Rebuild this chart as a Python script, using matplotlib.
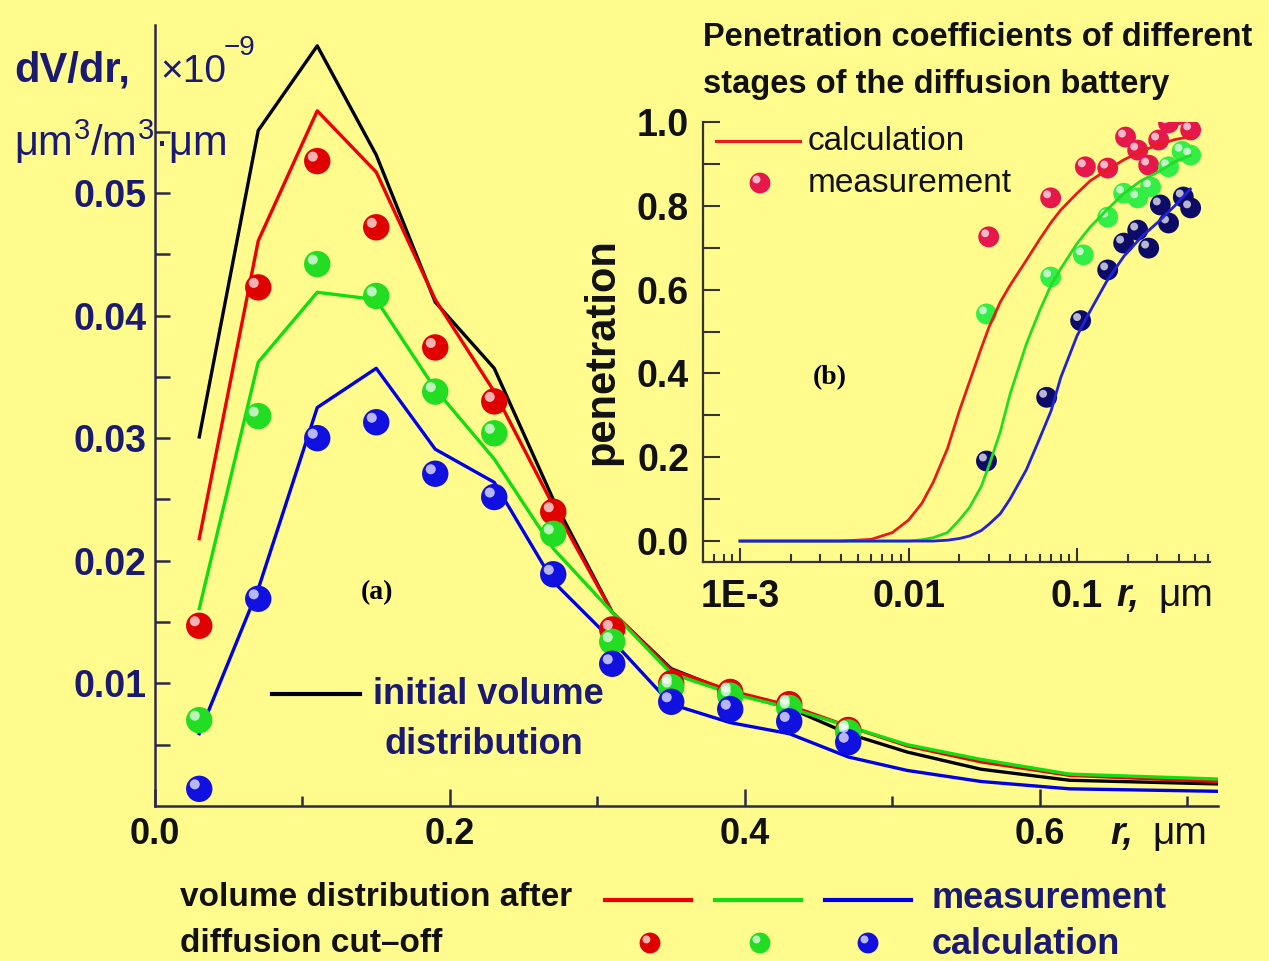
import numpy as np
import matplotlib
matplotlib.use('Agg')
import matplotlib.pyplot as plt
import matplotlib.transforms as mtransforms
from matplotlib.ticker import FixedLocator, FixedFormatter, LogLocator, NullFormatter

plt.rcParams['font.family'] = ['Liberation Sans', 'DejaVu Sans']

# ---- main plot (a): volume distribution, x1e-9 um^3/m^3/um ----
r_line = [0.03, 0.07, 0.11, 0.15, 0.19, 0.23, 0.27, 0.31, 0.35, 0.39, 0.43, 0.47, 0.51, 0.56, 0.62, 0.72]
initial = [0.0301, 0.0551, 0.0620, 0.0531, 0.0411, 0.0357, 0.0250, 0.0158, 0.0112, 0.0093, 0.0080, 0.0059, 0.0044, 0.0030, 0.0021, 0.0018]
red_line = [0.0218, 0.0461, 0.0567, 0.0517, 0.0413, 0.0338, 0.0245, 0.0158, 0.0111, 0.0094, 0.0082, 0.0065, 0.0049, 0.0036, 0.0025, 0.0020]
green_line = [0.0161, 0.0362, 0.0419, 0.0413, 0.0340, 0.0283, 0.0210, 0.0158, 0.0108, 0.0092, 0.0080, 0.0065, 0.0050, 0.0038, 0.0026, 0.0022]
blue_line = [0.0059, 0.0177, 0.0325, 0.0357, 0.0291, 0.0264, 0.0183, 0.0135, 0.0083, 0.0068, 0.0059, 0.0040, 0.0029, 0.0020, 0.0014, 0.0012]

r_dots = [0.03, 0.07, 0.11, 0.15, 0.19, 0.23, 0.27, 0.31, 0.35, 0.39, 0.43, 0.47]
red_dots = [0.0147, 0.0423, 0.0526, 0.0472, 0.0374, 0.0330, 0.0240, 0.0144, 0.0100, 0.0093, 0.0083, 0.0062]
green_dots = [0.0070, 0.0318, 0.0442, 0.0416, 0.0338, 0.0304, 0.0222, 0.0134, 0.0097, 0.0090, 0.0080, 0.0060]
blue_dots = [0.0014, 0.0169, 0.0300, 0.0313, 0.0271, 0.0252, 0.0189, 0.0116, 0.0085, 0.0079, 0.0069, 0.0052]

# ---- inset (b): penetration coefficients ----
r_calc = [0.001, 0.004, 0.006, 0.008, 0.01, 0.012, 0.014, 0.017, 0.02, 0.023, 0.027, 0.03, 0.035,
          0.04, 0.05, 0.06, 0.07, 0.08, 0.1, 0.12, 0.15, 0.19, 0.24, 0.3, 0.38, 0.47]
pen_red = [0, 0, 0.004, 0.02, 0.05, 0.09, 0.14, 0.22, 0.31, 0.38, 0.46, 0.51, 0.57,
           0.61, 0.67, 0.72, 0.76, 0.79, 0.83, 0.86, 0.885, 0.91, 0.93, 0.945, 0.958, 0.965]
pen_green = [0, 0, 0, 0, 0, 0.003, 0.008, 0.02, 0.05, 0.08, 0.13, 0.18, 0.26,
             0.35, 0.47, 0.55, 0.61, 0.65, 0.71, 0.75, 0.79, 0.83, 0.86, 0.88, 0.905, 0.92]
pen_blue = [0, 0, 0, 0, 0, 0, 0, 0.002, 0.006, 0.012, 0.025, 0.04, 0.065,
            0.10, 0.17, 0.245, 0.31, 0.39, 0.49, 0.55, 0.62, 0.68, 0.725, 0.76, 0.80, 0.84]

meas_red_r = [0.0299, 0.0697, 0.112, 0.152, 0.194, 0.229, 0.266, 0.305, 0.349, 0.395, 0.472]
meas_red = [0.726, 0.819, 0.893, 0.890, 0.964, 0.933, 0.897, 0.957, 0.998, 1.017, 0.981]
meas_green_r = [0.029, 0.0697, 0.109, 0.152, 0.189, 0.229, 0.273, 0.349, 0.42, 0.472]
meas_green = [0.542, 0.630, 0.683, 0.773, 0.830, 0.819, 0.845, 0.893, 0.930, 0.921]
meas_blue_r = [0.029, 0.066, 0.105, 0.152, 0.189, 0.229, 0.266, 0.312, 0.349, 0.427, 0.472]
meas_blue = [0.191, 0.343, 0.526, 0.647, 0.711, 0.742, 0.699, 0.802, 0.759, 0.821, 0.795]

W, H = 1269, 961
bg = '#fffb8c'
navy = '#1a1a73'
dark = '#111111'

fig = plt.figure(figsize=(W / 100, H / 100), dpi=100, facecolor=bg)


def fx(px):
    return px / W


def fy(py):
    return 1 - py / H


def balls(ax, x, y, color, d, z=5):
    # shaded sphere look: base disc + small offset highlight
    ax.scatter(x, y, s=d ** 2, c=color, edgecolors='none', zorder=z)
    off = mtransforms.offset_copy(ax.transData, fig=fig, x=-d * 0.17, y=d * 0.17, units='points')
    ax.scatter(x, y, s=(d * 0.38) ** 2, color='white', alpha=0.7, edgecolors='none',
               zorder=z + 0.1, transform=off)


# main axes
ax = fig.add_axes([fx(155), fy(806), fx(1218 - 155), (806 - 25) / H])
ax.set_facecolor('none')
ax.plot(r_line, initial, color='black', lw=2.4, zorder=3)
ax.plot(r_line, red_line, color='#ee0000', lw=2.4, zorder=3)
ax.plot(r_line, green_line, color='#11dd11', lw=2.4, zorder=3)
ax.plot(r_line, blue_line, color='#0000e6', lw=2.4, zorder=3)
balls(ax, r_dots, red_dots, '#e00000', 19)
balls(ax, r_dots, green_dots, '#22dd22', 19)
balls(ax, r_dots, blue_dots, '#1010e0', 19)

ax.set_xlim(0, 0.7207)
ax.set_ylim(0, 0.0637)
for s in ['top', 'right']:
    ax.spines[s].set_visible(False)
for s in ['left', 'bottom']:
    ax.spines[s].set_color('#2a2a4a')
    ax.spines[s].set_linewidth(1.8)
ax.xaxis.set_major_locator(FixedLocator([0.0, 0.2, 0.4, 0.6]))
ax.xaxis.set_major_formatter(FixedFormatter(['0.0', '0.2', '0.4', '0.6']))
ax.xaxis.set_minor_locator(FixedLocator([0.1, 0.3, 0.5, 0.7]))
ax.yaxis.set_major_locator(FixedLocator([0.01, 0.02, 0.03, 0.04, 0.05]))
ax.yaxis.set_major_formatter(FixedFormatter(['0.01', '0.02', '0.03', '0.04', '0.05']))
ax.yaxis.set_minor_locator(FixedLocator([0.005, 0.015, 0.025, 0.035, 0.045, 0.055]))
ax.tick_params(axis='both', which='both', direction='in', color='#2a2a4a', width=1.8)
ax.tick_params(axis='x', which='major', length=12, pad=8, labelsize=26, labelcolor=dark)
ax.tick_params(axis='x', which='minor', length=7)
ax.tick_params(axis='y', which='both', length=11, pad=6, labelsize=27, labelcolor=navy)
for lab in ax.get_xticklabels() + ax.get_yticklabels():
    lab.set_fontweight('bold')

# y-axis label pieces
fig.text(fx(14), fy(70), 'dV/dr,', fontsize=30, fontweight='bold', color=navy, va='center', ha='left')
fig.text(fx(160), fy(72), '\u00d710', fontsize=28, color=navy, va='center', ha='left')
fig.text(fx(224), fy(48), '\u22129', fontsize=20, color=navy, va='center', ha='left')
fig.text(fx(14), fy(142), '$\\mathregular{\u03bcm^3/m^3\u00b7\u03bcm}$', fontsize=30, color=navy,
         va='center', ha='left')

# x-axis label
fig.text(fx(1110), fy(834), 'r,', fontsize=27, fontweight='bold', fontstyle='italic', color=dark, va='center')
fig.text(fx(1152), fy(834), '\u03bcm', fontsize=28, color=dark, va='center')

fig.text(fx(377), fy(593), '(a)', fontsize=20, fontweight='bold', family='Liberation Serif',
         color='black', ha='center', va='center')

# legend for initial distribution
fig.add_artist(plt.Line2D([fx(272), fx(360)], [fy(694), fy(694)], color='black', lw=3))
fig.text(fx(488), fy(694), 'initial volume', fontsize=26, fontweight='bold', color=navy, ha='center', va='center')
fig.text(fx(484), fy(744), 'distribution', fontsize=26, fontweight='bold', color=navy, ha='center', va='center')

# bottom legend
fig.text(fx(180), fy(897), 'volume distribution after', fontsize=24, fontweight='bold', color=dark, va='center')
fig.text(fx(180), fy(943), 'diffusion cut\u2013off', fontsize=24, fontweight='bold', color=dark, va='center')
for x0, c in [(605, '#ee0000'), (715, '#11dd11'), (825, '#0000e6')]:
    fig.add_artist(plt.Line2D([fx(x0), fx(x0 + 86)], [fy(900), fy(900)], color=c, lw=3))
fig.text(fx(932), fy(898), 'measurement', fontsize=26, fontweight='bold', color=navy, va='center')
fig.text(fx(932), fy(944), 'calculation', fontsize=26, fontweight='bold', color=navy, va='center')
legax = fig.add_axes([0, 0, 1, 1])
legax.set_xlim(0, W)
legax.set_ylim(H, 0)
legax.axis('off')
balls(legax, [650, 760, 868], [943, 943, 943], ['#e00000', '#22dd22', '#1010e0'], 15)

# ---- inset ----
ins = fig.add_axes([fx(703), fy(562), fx(1210 - 703), (562 - 122) / H])
ins.set_facecolor('none')
ins.set_xscale('log')
ins.plot(r_calc, pen_red, color='#e81c1c', lw=2, zorder=4)
ins.plot(r_calc, pen_green, color='#22dd22', lw=2, zorder=4)
ins.plot(r_calc, pen_blue, color='#2020dd', lw=2, zorder=4)
balls(ins, meas_red_r, meas_red, '#e5174b', 15, z=3)
balls(ins, meas_green_r, meas_green, '#33ee44', 15, z=3)
balls(ins, meas_blue_r, meas_blue, '#0c0c66', 15, z=3)
ins.set_xlim(6.03e-4, 0.615)
ins.set_ylim(-0.05, 1.0)
for s in ['top', 'right']:
    ins.spines[s].set_visible(False)
for s in ['left', 'bottom']:
    ins.spines[s].set_color('#333333')
    ins.spines[s].set_linewidth(1.6)
ins.xaxis.set_major_locator(FixedLocator([1e-3, 1e-2, 1e-1]))
ins.xaxis.set_major_formatter(FixedFormatter(['1E-3', '0.01', '0.1']))
ins.xaxis.set_minor_locator(LogLocator(base=10, subs=np.arange(2, 10)))
ins.xaxis.set_minor_formatter(NullFormatter())
ins.yaxis.set_major_locator(FixedLocator([0.0, 0.2, 0.4, 0.6, 0.8, 1.0]))
ins.yaxis.set_major_formatter(FixedFormatter(['0.0', '0.2', '0.4', '0.6', '0.8', '1.0']))
ins.yaxis.set_minor_locator(FixedLocator([0.1, 0.3, 0.5, 0.7, 0.9]))
ins.tick_params(axis='both', which='both', direction='in', color='#333333', width=1.5)
ins.tick_params(axis='x', which='major', length=10, pad=12, labelsize=27, labelcolor=dark)
ins.tick_params(axis='x', which='minor', length=6)
ins.tick_params(axis='y', which='both', length=12, pad=10, labelsize=27, labelcolor=dark)
for lab in ins.get_xticklabels() + ins.get_yticklabels():
    lab.set_fontweight('bold')

fig.text(fx(602), fy(352), 'penetration', fontsize=30, fontweight='bold', color=dark,
         rotation=90, ha='center', va='center')
fig.text(fx(1116), fy(596), 'r,', fontsize=27, fontweight='bold', fontstyle='italic', color=dark, va='center')
fig.text(fx(1158), fy(596), '\u03bcm', fontsize=28, color=dark, va='center')
fig.text(fx(703), fy(38), 'Penetration coefficients of different', fontsize=23.5, fontweight='bold',
         color=dark, va='center')
fig.text(fx(703), fy(84), 'stages of the diffusion battery', fontsize=23.5, fontweight='bold',
         color=dark, va='center')
fig.text(fx(830), fy(378), '(b)', fontsize=20, fontweight='bold', family='Liberation Serif',
         color='black', ha='center', va='center')

# inset legend
fig.add_artist(plt.Line2D([fx(716), fx(800)], [fy(141), fy(141)], color='#e81c1c', lw=2.2))
fig.text(fx(808), fy(141), 'calculation', fontsize=24, color=dark, va='center')
balls(legax, [760], [183], '#e5174b', 15)
fig.text(fx(808), fy(183), 'measurement', fontsize=24, color=dark, va='center')

fig.savefig('out.png', dpi=100, facecolor=bg)
